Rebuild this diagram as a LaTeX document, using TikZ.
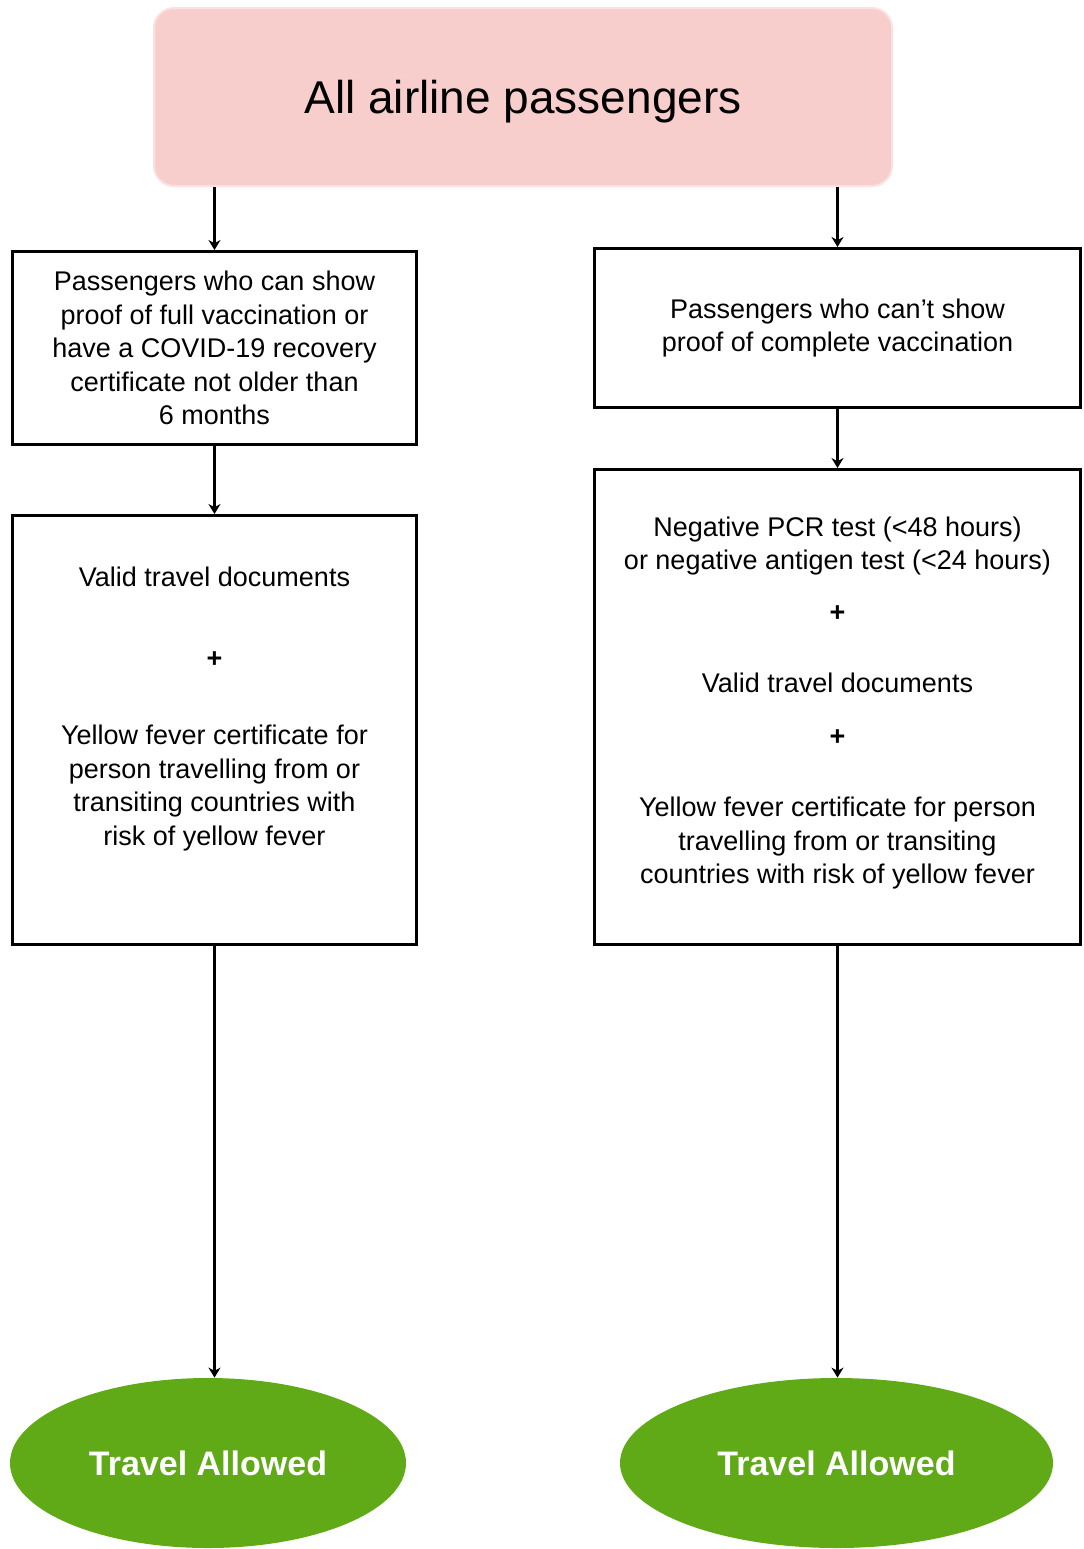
\documentclass[tikz,border=0pt]{standalone}
\usepackage{fontspec}
\setmainfont{Liberation Sans}
\usepackage{xcolor}
\usetikzlibrary{arrows.meta, shapes.geometric}
\definecolor{pinkfill}{HTML}{F8CECC}
\definecolor{mygreen}{HTML}{60A917}
\tikzset{
	box/.style={draw, line width=1.5pt, align=center, inner sep=0pt, font=\fontsize{13.5}{16.75}\selectfont},
	boxtext/.style={align=center, inner sep=0pt, font=\fontsize{13.5}{16.75}\selectfont},
	flow/.style={line width=1.25pt, -{Stealth[length=5pt, width=6pt]}},
	endnode/.style={ellipse, fill=mygreen, text=white, inner sep=0pt, minimum height=85pt, font=\fontsize{17}{20}\selectfont\bfseries}
}

\begin{document}
\begin{tikzpicture}[x=0.5pt, y=-0.5pt]
		\useasboundingbox (0,0) rectangle (1083,1549);

		\node[rounded corners=10pt, fill=pinkfill, draw=pinkfill!60!white, line width=1pt, minimum width=369pt, minimum height=89pt, text depth=0pt, font=\fontsize{23}{27}\selectfont] (all) at (523,97) {All airline passengers};

		\node[box, minimum width=202pt, minimum height=96.5pt] (left1) at (214.5,348) {Passengers who can show\\proof of full vaccination or\\have a COVID-19 recovery\\certificate not older than\\6 months};
		\node[box, minimum width=202pt, minimum height=214.5pt] (left2) at (214.5,730) {};
		\node[boxtext] (left2txt) at (214.5,709) {Valid travel documents\\[24pt]\textbf{+}\\[21.75pt]Yellow fever certificate for\\person travelling from or\\transiting countries with\\risk of yellow fever};

		\node[box, minimum width=243pt, minimum height=79.5pt] (right1) at (837.5,328) {Passengers who can't show\\proof of complete vaccination};
		\node[box, minimum width=243pt, minimum height=237.5pt] (right2) at (837.5,707) {};
		\node[boxtext] (right2txt) at (837.5,703) {Negative PCR test (<48 hours)\\or negative antigen test (<24 hours)\\[9.25pt]\textbf{+}\\[18.75pt]Valid travel documents\\[9.75pt]\textbf{+}\\[18.75pt]Yellow fever certificate for person\\travelling from or transiting\\countries with risk of yellow fever};

		\node[endnode, minimum width=198pt] (leftend) at (208,1463) {Travel Allowed};
		\node[endnode, minimum width=216.5pt] (rightend) at (836.5,1463) {Travel Allowed};

		\draw[flow] (all.south -| left1.north) -- (left1.north);
		\draw[flow] (all.south -| right1.north) -- (right1.north);
		\draw[flow] (left1) -- (left2);
		\draw[flow] (right1) -- (right2);
		\draw[flow] (left2.south) -- (left2.south |- leftend.north);
		\draw[flow] (right2.south) -- (right2.south |- rightend.north);
	\end{tikzpicture}
\end{document}
